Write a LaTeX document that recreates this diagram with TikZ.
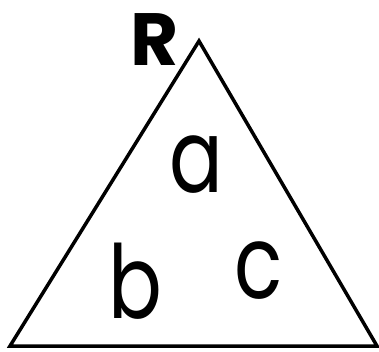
\documentclass[tikz,border=0pt]{standalone}
\usepackage{fontspec}
\setmainfont{Poppins}
\usetikzlibrary{positioning}
\tikzset{
  trait/.style={draw=black,line width=3.5pt,line join=miter},
  lettre/.style={anchor=base,inner sep=0pt,xscale=0.78,font=\fontsize{102}{102}\selectfont},
  sommet/.style={anchor=base,inner sep=0pt,font=\fontsize{74}{74}\selectfont\bfseries},
}
\begin{document}
\begin{tikzpicture}[x=1pt,y=-1pt]
  \useasboundingbox (0,0) rectangle (379,351);
  \coordinate (haut) at (199,41);
  \coordinate (gauche) at (10,346);
  \coordinate (droite) at (377,346);
  \draw[trait] (haut) -- (gauche) -- (droite) -- cycle;
  \node[sommet] (R) at (155,65) {R};
  \node[lettre] (a) at (196,192) {a};
  \node[lettre] (b) at (135,318) {b};
  \node[lettre] (c) at (259,298) {c};
\end{tikzpicture}
\end{document}
